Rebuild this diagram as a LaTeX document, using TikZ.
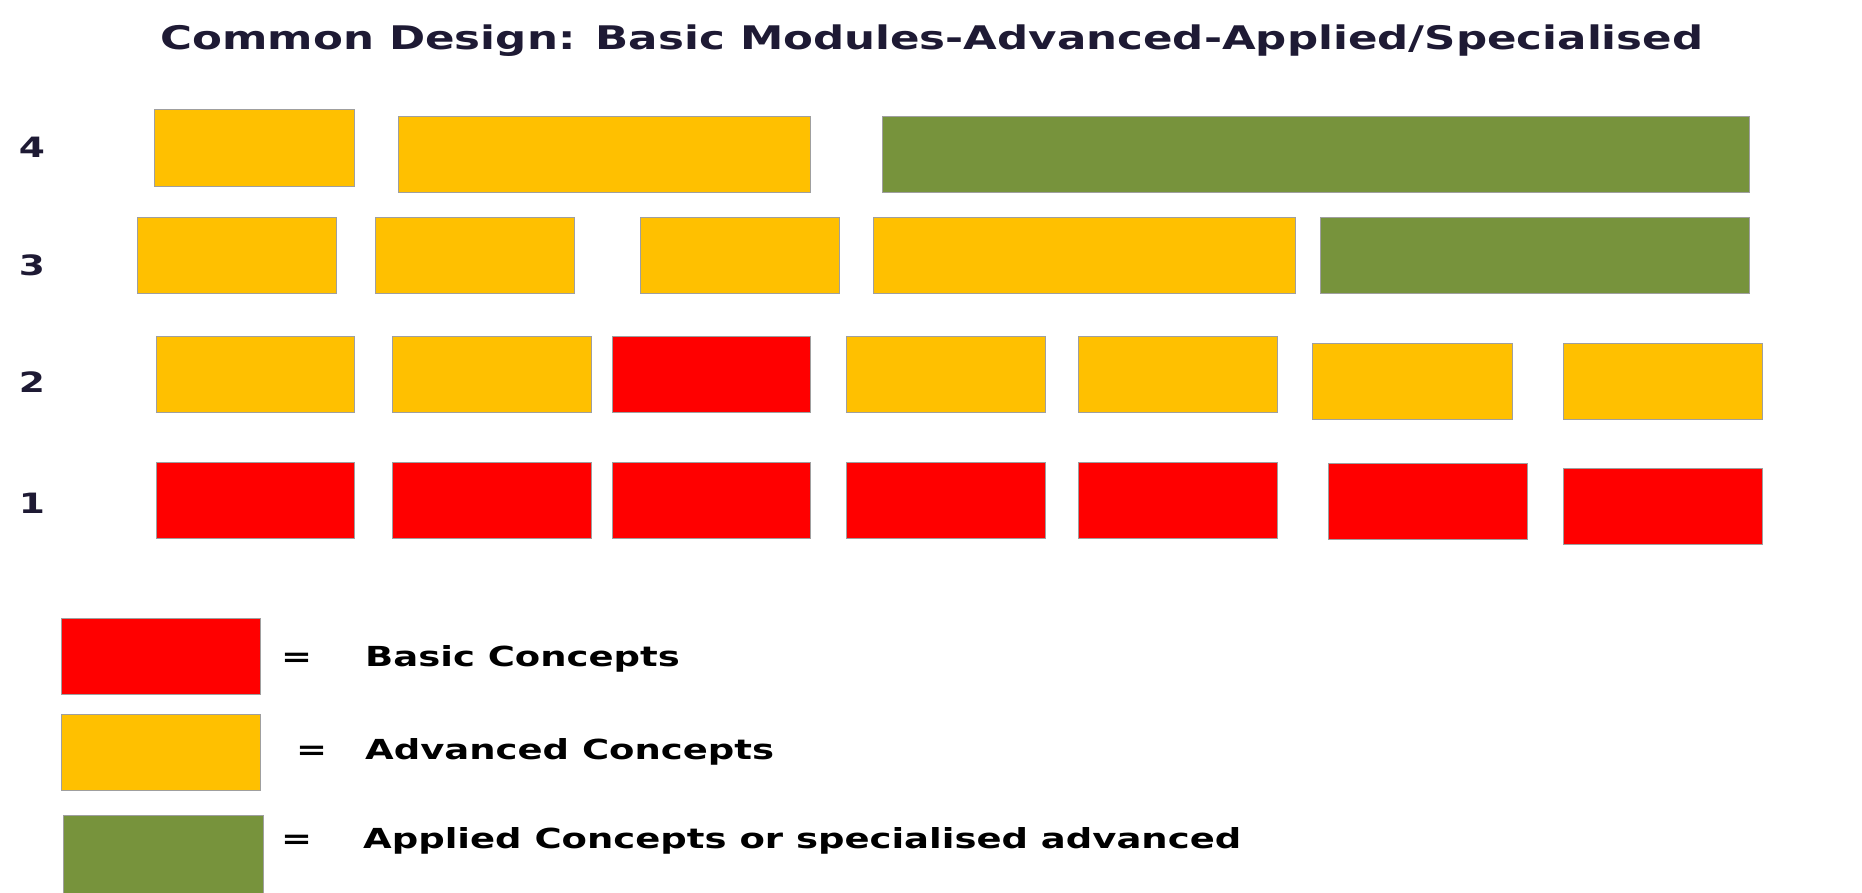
\documentclass[tikz,border=0pt]{standalone}
\usepackage{fontspec}
\usepackage{xcolor}
\usepackage{tikz}
\usetikzlibrary{positioning}
\newfontfamily\diagfont{DejaVu Sans}[FakeStretch=1.34]
\definecolor{basicred}{HTML}{FF0000}
\definecolor{advyellow}{HTML}{FFC000}
\definecolor{appgreen}{HTML}{77933C}
\definecolor{titlenavy}{HTML}{1E1A34}

\begin{document}
\begin{tikzpicture}[x=1pt, y=-1pt,
	module/.style={draw=gray!75, line width=1pt, inner sep=0pt, anchor=north west, minimum height=76pt},
	basicbox/.style={module, fill=basicred},
	advbox/.style={module, fill=advyellow},
	appbox/.style={module, fill=appgreen},
	lvl/.style={anchor=base, font=\diagfont\bfseries\fontsize{28}{30}\selectfont, text=titlenavy},
	keytext/.style={anchor=base west, inner sep=0pt, font=\diagfont\bfseries\fontsize{27.6}{30}\selectfont}]
	\fill[white] (0,0) rectangle (1862,892);
	\useasboundingbox (0,0) rectangle (1862,892);

	\node[anchor=base, inner sep=0pt, text=titlenavy, font=\diagfont\bfseries\fontsize{32.5}{35}\selectfont] (title) at (932,49) {Common Design: Basic Modules-Advanced-Applied/Specialised};

	% levels
	\node[lvl] (l4) at (32,157) {4};
	\node[lvl] (l3) at (32,275) {3};
	\node[lvl] (l2) at (32,392) {2};
	\node[lvl] (l1) at (32,513) {1};

	% level 4
	\node[advbox, minimum width=200pt, minimum height=77pt] (a41) at (154,109) {};
	\node[advbox, minimum width=412pt] (a42) at (398,116) {};
	\node[appbox, minimum width=867pt] (s41) at (882,116) {};

	% level 3
	\node[advbox, minimum width=199pt] (a31) at (137,217) {};
	\node[advbox, minimum width=199pt] (a32) at (375,217) {};
	\node[advbox, minimum width=199pt] (a33) at (640,217) {};
	\node[advbox, minimum width=422pt] (a34) at (873,217) {};
	\node[appbox, minimum width=429pt] (s31) at (1320,217) {};

	% level 2
	\node[advbox, minimum width=198pt] (a21) at (156,336) {};
	\node[advbox, minimum width=199pt] (a22) at (392,336) {};
	\node[basicbox, minimum width=198pt] (b21) at (612,336) {};
	\node[advbox, minimum width=199pt] (a23) at (846,336) {};
	\node[advbox, minimum width=199pt] (a24) at (1078,336) {};
	\node[advbox, minimum width=200pt] (a25) at (1312,343) {};
	\node[advbox, minimum width=199pt] (a26) at (1563,343) {};

	% level 1
	\node[basicbox, minimum width=198pt] (b11) at (156,462) {};
	\node[basicbox, minimum width=199pt] (b12) at (392,462) {};
	\node[basicbox, minimum width=198pt] (b13) at (612,462) {};
	\node[basicbox, minimum width=199pt] (b14) at (846,462) {};
	\node[basicbox, minimum width=199pt] (b15) at (1078,462) {};
	\node[basicbox, minimum width=199pt] (b16) at (1328,463) {};
	\node[basicbox, minimum width=199pt] (b17) at (1563,468) {};

	% key
	\node[basicbox, minimum width=199pt] (kb) at (61,618) {};
	\node[advbox, minimum width=199pt] (ka) at (61,714) {};
	\node[appbox, minimum width=200pt, minimum height=80pt] (ks) at (63,815) {};

	\node[keytext] (eqb) at (281,666) {=};
	\node[keytext] (eqa) at (296,759) {=};
	\node[keytext] (eqs) at (281,848) {=};
	\node[keytext] (tb) at (365,666) {Basic Concepts};
	\node[keytext] (ta) at (365,759) {Advanced Concepts};
	\node[keytext] (ts) at (363,848) {Applied Concepts or specialised advanced};
\end{tikzpicture}
\end{document}
